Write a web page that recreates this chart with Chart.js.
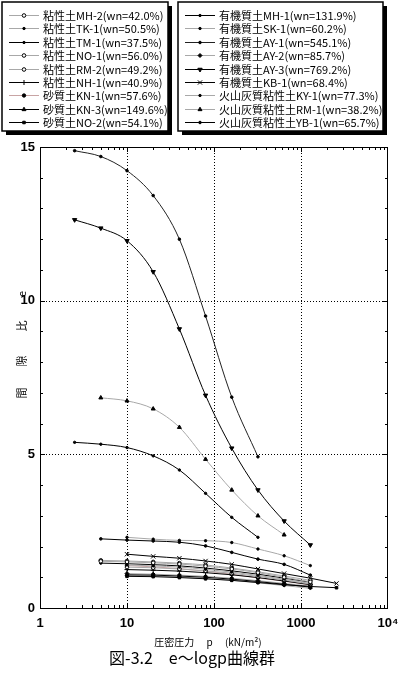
<!DOCTYPE html>
<html>
<head>
<meta charset="utf-8">
<script src="https://cdn.jsdelivr.net/npm/chart.js@4.4.0/dist/chart.umd.min.js"></script>
<style>
  html, body { margin: 0; padding: 0; background: #fff; }
  #wrap { width: 398px; height: 674px; }
</style>
</head>
<body>
<div id="wrap"><canvas id="eLogP" width="398" height="674"></canvas></div>
<script>
// consolidation pressure steps (kN/m2)
const P_A = [2.5, 5, 10, 20, 40, 80, 160, 320];
const P_B = [2.5, 5, 10, 20, 40, 80, 160, 320, 640, 1280];
const P_C = [5, 10, 20, 40, 80, 160, 320, 640];
const P_D = [5, 10, 20, 40, 80, 160, 320, 640, 1280];
const P_E = [10, 20, 40, 80, 160, 320, 640, 1280];
const P_F = [10, 20, 40, 80, 160, 320, 640, 1280, 2560];

const seriesLabels = [
    '粘性土MH-2(wn=42.0%)', '粘性土TK-1(wn=50.5%)', '粘性土TM-1(wn=37.5%)',
    '粘性土NO-1(wn=56.0%)', '粘性土RM-2(wn=49.2%)', '粘性土NH-1(wn=40.9%)',
    '砂質土KN-1(wn=57.6%)', '砂質土KN-3(wn=149.6%)', '砂質土NO-2(wn=54.1%)',
    '有機質土MH-1(wn=131.9%)', '有機質土SK-1(wn=60.2%)', '有機質土AY-1(wn=545.1%)',
    '有機質土AY-2(wn=85.7%)', '有機質土AY-3(wn=769.2%)', '有機質土KB-1(wn=68.4%)',
    '火山灰質粘性土KY-1(wn=77.3%)', '火山灰質粘性土RM-1(wn=38.2%)', '火山灰質粘性土YB-1(wn=65.7%)'
];

const seriesPressures = [
    P_D, P_E, P_D, P_D, P_E, P_E, P_E, P_E, P_F,
    P_A, P_E, P_A, P_E, P_B, P_F, P_E, P_C, P_D
];

// void ratio e
const seriesVoidRatios = [
    [1.52, 1.50, 1.47, 1.43, 1.36, 1.27, 1.15, 1.00, 0.85],
    [1.40, 1.37, 1.33, 1.26, 1.17, 1.06, 0.94, 0.80],
    [1.46, 1.44, 1.41, 1.37, 1.30, 1.21, 1.10, 0.97, 0.84],
    [1.55, 1.53, 1.50, 1.46, 1.40, 1.30, 1.18, 1.04, 0.90],
    [1.33, 1.31, 1.27, 1.21, 1.13, 1.03, 0.91, 0.78],
    [1.25, 1.23, 1.20, 1.15, 1.08, 0.99, 0.88, 0.76],
    [1.38, 1.34, 1.28, 1.20, 1.10, 0.98, 0.87, 0.75],
    [1.08, 1.07, 1.04, 1.00, 0.94, 0.86, 0.77, 0.68],
    [1.03, 1.02, 0.99, 0.95, 0.90, 0.83, 0.76, 0.70, 0.66],
    [5.39, 5.33, 5.22, 4.95, 4.49, 3.73, 2.95, 2.30],
    [1.06, 1.04, 1.01, 0.96, 0.90, 0.82, 0.73, 0.64],
    [14.88, 14.69, 14.23, 13.42, 12.00, 9.50, 6.86, 4.92],
    [1.12, 1.10, 1.07, 1.03, 0.97, 0.89, 0.80, 0.71],
    [12.63, 12.36, 11.95, 10.94, 9.08, 6.92, 5.20, 3.84, 2.83, 2.05],
    [1.75, 1.68, 1.62, 1.53, 1.42, 1.27, 1.12, 0.97, 0.80],
    [2.30, 2.24, 2.20, 2.19, 2.13, 1.92, 1.70, 1.38],
    [6.84, 6.74, 6.48, 5.88, 4.84, 3.84, 3.00, 2.38],
    [2.25, 2.21, 2.18, 2.14, 2.02, 1.81, 1.59, 1.42, 1.07]
];

const xTickValues = [1, 10, 100, 1000, 10000];
const yTickValues = [0, 5, 10, 15];

// styles (kept apart from the data)
const GRAY = '#a8a8a8';
const lineColors = [
    GRAY, GRAY, '#000', GRAY, GRAY, '#000', '#c8a4a4', '#000', '#000',
    '#000', GRAY, '#222', GRAY, '#000', '#000', GRAY, GRAY, '#000'
];
const markers = [
    {style: 'circle', r: 1.8, open: true}, {style: 'circle', r: 1.2}, {style: 'circle', r: 1.2},
    {style: 'circle', r: 1.8, open: true}, {style: 'circle', r: 1.8, open: true}, {style: 'cross', r: 2.5},
    {style: 'circle', r: 1.7}, {style: 'triangle', r: 2.3}, {style: 'rect', r: 1.8},
    {style: 'circle', r: 1.2}, {style: 'circle', r: 1.2}, {style: 'circle', r: 1.3},
    {style: 'rectRot', r: 2}, {style: 'triangle', r: 2.5, rot: 180}, {style: 'crossRot', r: 3},
    {style: 'circle', r: 1.2}, {style: 'triangle', r: 2.3}, {style: 'circle', r: 1.3}
];

const datasets = seriesLabels.map((label, i) => ({
    label: label,
    data: seriesPressures[i].map((p, j) => ({x: p, y: seriesVoidRatios[i][j]})),
    borderColor: lineColors[i],
    borderWidth: 1,
    pointStyle: markers[i].style,
    pointRadius: markers[i].r,
    pointRotation: markers[i].rot || 0,
    pointBackgroundColor: markers[i].open ? '#fff' : '#000',
    pointBorderColor: '#000',
    pointBorderWidth: 1,
    cubicInterpolationMode: 'monotone',
    fill: false
}));

function isDecade(v) {
    const l = Math.log10(v);
    return Math.abs(l - Math.round(l)) < 1e-6;
}

const frameAndGrid = {
    id: 'frameAndGrid',
    beforeDatasetsDraw(chart) {
        const {ctx, chartArea: a, scales: {x, y}} = chart;
        ctx.save();
        ctx.strokeStyle = '#000';
        ctx.lineWidth = 1;
        ctx.setLineDash([1, 2]);
        ctx.beginPath();
        [10, 100, 1000].forEach(v => {
            const px = Math.round(x.getPixelForValue(v)) + 0.5;
            ctx.moveTo(px, a.top); ctx.lineTo(px, a.bottom);
        });
        [5, 10].forEach(v => {
            const py = Math.round(y.getPixelForValue(v)) + 0.5;
            ctx.moveTo(a.left, py); ctx.lineTo(a.right, py);
        });
        ctx.stroke();
        ctx.setLineDash([]);

        ctx.beginPath();
        for (let d = 0; d < 4; d++) {
            for (let k = 1; k <= 9; k++) {
                const v = k * Math.pow(10, d);
                const px = Math.round(x.getPixelForValue(v)) + 0.5;
                const len = k === 1 ? 5 : 3;
                ctx.moveTo(px, a.bottom); ctx.lineTo(px, a.bottom - len);
                ctx.moveTo(px, a.top); ctx.lineTo(px, a.top + len);
            }
        }
        for (let v = 1; v < 15; v++) {
            const py = Math.round(y.getPixelForValue(v)) + 0.5;
            const len = v % 5 === 0 ? 5 : 3;
            ctx.moveTo(a.left, py); ctx.lineTo(a.left + len, py);
            ctx.moveTo(a.right, py); ctx.lineTo(a.right - len, py);
        }
        ctx.stroke();
        ctx.strokeRect(Math.round(a.left) + 0.5, Math.round(a.top) + 0.5,
            Math.round(a.width) - 1, Math.round(a.height));
        ctx.restore();
    }
};

const boxLegend = {
    id: 'boxLegend',
    afterDraw(chart) {
        const ctx = chart.ctx;
        const boxes = [
            {x: 2, y: 2, w: 166, h: 129, from: 0},
            {x: 178, y: 2, w: 205, h: 129, from: 9}
        ];
        ctx.save();
        boxes.forEach(b => {
            ctx.fillStyle = '#000';
            ctx.fillRect(b.x + 4, b.y + 4, b.w, b.h);
            ctx.fillStyle = '#fff';
            ctx.fillRect(b.x, b.y, b.w, b.h);
            ctx.strokeStyle = '#000';
            ctx.lineWidth = 1.5;
            ctx.strokeRect(b.x, b.y, b.w, b.h);
            for (let i = 0; i < 9; i++) {
                const ds = chart.data.datasets[b.from + i];
                const cy = Math.round(b.y + 13 + i * 13.4) + 0.5;
                ctx.strokeStyle = ds.borderColor;
                ctx.lineWidth = 1;
                ctx.beginPath();
                ctx.moveTo(b.x + 7, cy); ctx.lineTo(b.x + 37, cy);
                ctx.stroke();
                ctx.fillStyle = ds.pointBackgroundColor;
                ctx.strokeStyle = '#000';
                Chart.helpers.drawPoint(ctx, {
                    pointStyle: ds.pointStyle, radius: ds.pointRadius,
                    rotation: ds.pointRotation, borderWidth: 1
                }, b.x + 22, cy);
                ctx.fillStyle = '#000';
                ctx.font = '11px "Noto Sans CJK JP"';
                ctx.textBaseline = 'middle';
                ctx.textAlign = 'left';
                ctx.fillText(ds.label, b.x + 41, cy);
            }
        });

        // y title, glyphs turned sideways
        ctx.font = '11px "Noto Sans CJK JP"';
        ctx.textAlign = 'center';
        ctx.textBaseline = 'middle';
        [['間', 393], ['隙', 361], ['比', 326], ['e', 294]].forEach(([t, yy]) => {
            ctx.save();
            ctx.translate(22, yy);
            ctx.rotate(-Math.PI / 2);
            ctx.fillText(t, 0, 0);
            ctx.restore();
        });

        ctx.font = '10px "Noto Sans CJK JP"';
        ctx.fillText('圧密圧力　 p 　(kN/m²)', 208, 642);
        ctx.font = '16px "Noto Sans CJK JP"';
        ctx.fillText('図-3.2　e〜logp曲線群', 192, 658);
        ctx.restore();
    }
};

new Chart(document.getElementById('eLogP').getContext('2d'), {
    type: 'line',
    data: {datasets: datasets},
    options: {
        responsive: false,
        animation: false,
        devicePixelRatio: 1,
        layout: {padding: {top: 147, right: 10, left: 0, bottom: 0}},
        plugins: {legend: {display: false}, tooltip: {enabled: false}},
        scales: {
            x: {
                type: 'logarithmic',
                min: 1,
                max: 10000,
                grid: {display: false, drawTicks: false},
                border: {display: false},
                afterBuildTicks: scale => {
                    scale.ticks = xTickValues.map(v => ({value: v}));
                },
                afterFit: scale => {
                    scale.height = 66;
                    scale.paddingLeft = 0;
                    scale.paddingRight = 0;
                },
                ticks: {
                    autoSkip: false,
                    maxRotation: 0,
                    padding: 8,
                    color: '#000',
                    font: {family: '"Liberation Sans Narrow", "Liberation Sans"', size: 13, weight: 'bold'},
                    callback: v => isDecade(v) ? (v === 10000 ? '10⁴' : String(v)) : ''
                }
            },
            y: {
                min: 0,
                max: 15,
                grid: {display: false, drawTicks: false},
                border: {display: false},
                afterBuildTicks: scale => {
                    scale.ticks = yTickValues.map(v => ({value: v}));
                },
                afterFit: scale => {
                    scale.width = 40;
                    scale.paddingTop = 0;
                    scale.paddingBottom = 0;
                },
                ticks: {
                    padding: 5,
                    color: '#000',
                    font: {family: '"Liberation Sans Narrow", "Liberation Sans"', size: 13, weight: 'bold'}
                }
            }
        }
    },
    plugins: [frameAndGrid, boxLegend]
});
</script>
</body>
</html>
